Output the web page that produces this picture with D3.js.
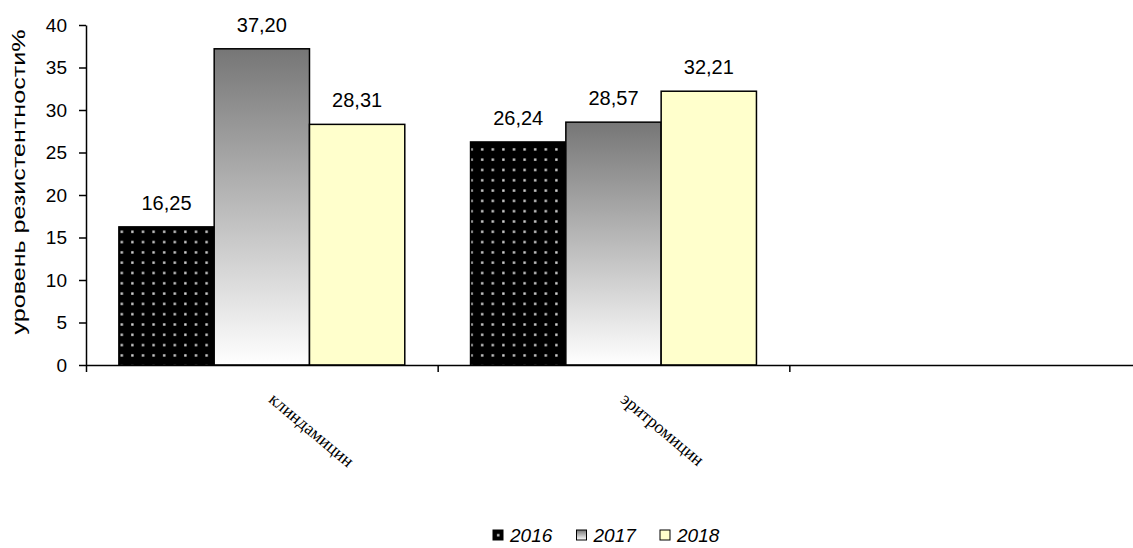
<!DOCTYPE html>
<html>
<head>
<meta charset="utf-8">
<script src="https://cdn.jsdelivr.net/npm/d3@7"></script>
<style>
  body { margin: 0; background: #fff; }
  svg { display: block; }
  .axis path, .axis line { stroke: #000; stroke-width: 1.5px; }
  .axis text { font-family: Arial, "Liberation Sans", sans-serif; font-size: 19px; fill: #000; }
  .val { font-family: Arial, "Liberation Sans", sans-serif; font-size: 20px; fill: #000; }
  .cat { font-family: "Liberation Serif", "DejaVu Serif", serif; font-size: 18px; fill: #000; }
  .legend text { font-family: Arial, "Liberation Sans", sans-serif; font-size: 19px; font-style: italic; fill: #000; }
</style>
</head>
<body>
<svg width="1133" height="548"></svg>
<script>
// data
var categories = ['клиндамицин', 'эритромицин', ''];
var years = ['2016', '2017', '2018'];
var values2016 = [16.25, 26.24, null];
var values2017 = [37.20, 28.57, null];
var values2018 = [28.31, 32.21, null];
var yTicks = [0, 5, 10, 15, 20, 25, 30, 35, 40];
var yTitle = 'уровень резистентности%';

var svg = d3.select('svg');
var svgWidth = +svg.attr('width');
var svgHeight = +svg.attr('height');

// plot area, x axis runs on past the right edge like in the original
var padding = {l: 86, t: 25, b: 183};
var plotRight = 1141;
var plotBottom = svgHeight - padding.b;

var seriesByYear = {'2016': values2016, '2017': values2017, '2018': values2018};
var rows = [];
categories.forEach(function(cat, i) {
    years.forEach(function(yr) {
        var v = seriesByYear[yr][i];
        if (v != null) rows.push({cat: cat, year: yr, value: v});
    });
});

var x0 = d3.scaleBand().domain(categories).range([padding.l, plotRight]).paddingInner(0).paddingOuter(0);
var x1 = d3.scaleBand().domain(years).range([0, x0.bandwidth()]).paddingInner(0).paddingOuter(0.345);
var yScale = d3.scaleLinear().domain([0, 40]).range([plotBottom, padding.t]);

var defs = svg.append('defs');

// dotted black fill for 2016
var dots = defs.append('pattern')
    .attr('id', 'dots')
    .attr('patternUnits', 'userSpaceOnUse')
    .attr('width', 10.6)
    .attr('height', 10.3);
dots.append('rect').attr('width', 10.6).attr('height', 10.3).attr('fill', '#000');
dots.append('rect').attr('x', 4).attr('y', 4).attr('width', 2.4).attr('height', 2.4).attr('fill', '#d0d0d0');

// grey to white gradient for 2017
var grad = defs.append('linearGradient')
    .attr('id', 'grey')
    .attr('x1', 0).attr('y1', 0).attr('x2', 0).attr('y2', 1);
grad.append('stop').attr('offset', '0%').attr('stop-color', '#767676');
grad.append('stop').attr('offset', '100%').attr('stop-color', '#ffffff');

var fills = {'2016': 'url(#dots)', '2017': 'url(#grey)', '2018': '#ffffcc'};

var chartG = svg.append('g');

// bars
chartG.selectAll('.bar')
    .data(rows)
    .enter()
    .append('rect')
    .attr('class', 'bar')
    .attr('x', function(d) { return x0(d.cat) + x1(d.year); })
    .attr('y', function(d) { return yScale(d.value); })
    .attr('width', x1.bandwidth())
    .attr('height', function(d) { return plotBottom - yScale(d.value); })
    .attr('fill', function(d) { return fills[d.year]; })
    .attr('stroke', '#000')
    .attr('stroke-width', 1.5);

// value labels
var fmt = function(v) { return d3.format('.2f')(v).replace('.', ','); };
chartG.selectAll('.val')
    .data(rows)
    .enter()
    .append('text')
    .attr('class', 'val')
    .attr('text-anchor', 'middle')
    .attr('x', function(d) { return x0(d.cat) + x1(d.year) + x1.bandwidth() / 2; })
    .attr('y', function(d) { return yScale(d.value) - 17; })
    .text(function(d) { return fmt(d.value); });

// y axis
var yAxis = d3.axisLeft(yScale).tickValues(yTicks).tickSize(7).tickPadding(12).tickSizeOuter(0);
chartG.append('g')
    .attr('class', 'y axis')
    .attr('transform', 'translate(' + [padding.l, 0] + ')')
    .call(yAxis);

// x axis: ticks at the category boundaries, labels drawn separately
var xAxis = d3.axisBottom(d3.scaleLinear().domain([0, 3]).range([padding.l, plotRight]))
    .tickValues([0, 1, 2, 3]).tickSize(7).tickSizeOuter(0).tickFormat('');
chartG.append('g')
    .attr('class', 'x axis')
    .attr('transform', 'translate(' + [0, plotBottom] + ')')
    .call(xAxis);

chartG.selectAll('.cat')
    .data(categories.filter(function(c) { return c !== ''; }))
    .enter()
    .append('text')
    .attr('class', 'cat')
    .attr('transform', function(d) {
        return 'translate(' + [x0(d) + x0.bandwidth() / 2 + 6, plotBottom + 36] + ')rotate(40)';
    })
    .text(function(d) { return d; });

// y axis title
svg.append('text')
    .attr('class', 'ytitle')
    .attr('transform', 'translate(' + [25, 182] + ')rotate(-90)')
    .attr('text-anchor', 'middle')
    .attr('textLength', 305)
    .attr('lengthAdjust', 'spacingAndGlyphs')
    .style('font-family', 'Arial, "Liberation Sans", sans-serif')
    .style('font-size', '19px')
    .text(yTitle);

// legend
var legend = svg.append('g').attr('class', 'legend');
var legendX = d3.scalePoint().domain(years).range([493, 660]);
var item = legend.selectAll('.item')
    .data(years)
    .enter()
    .append('g')
    .attr('class', 'item')
    .attr('transform', function(d) { return 'translate(' + [legendX(d), 530] + ')'; });
item.append('rect')
    .attr('width', 10)
    .attr('height', 10)
    .attr('fill', function(d) { return fills[d]; })
    .attr('stroke', '#000')
    .attr('stroke-width', 1);
item.append('text')
    .attr('x', 17)
    .attr('y', 12)
    .text(function(d) { return d; });
</script>
</body>
</html>
